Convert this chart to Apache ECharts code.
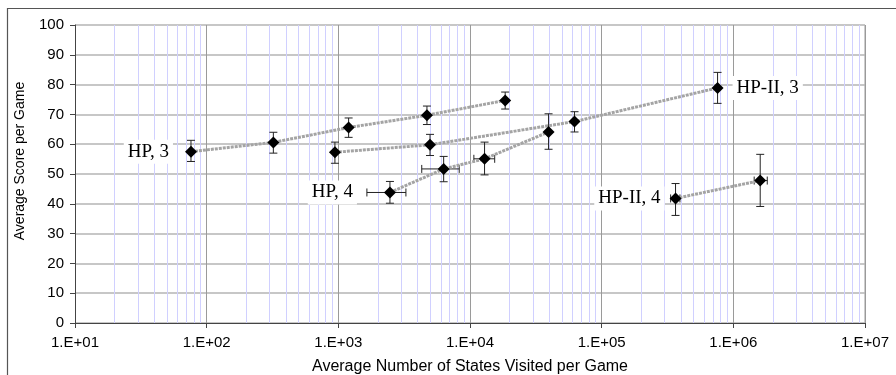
<!DOCTYPE html>
<html><head><meta charset="utf-8">
<script src="https://cdn.jsdelivr.net/npm/echarts@6/dist/echarts.min.js"></script>
<style>html,body{margin:0;padding:0;background:#fff}#c{width:896px;height:375px}</style>
</head><body><div id="c"></div>
<script>
// ---- data ----
const seriesNames = ['HP, 3', 'HP-II, 3', 'HP, 4', 'HP-II, 4'];

const hp3X  = [76, 321, 1197, 4710, 18500];
const hp3Y  = [57.5, 60.6, 65.6, 69.7, 74.7];
const hp3Lo = [54.2, 57.0, 62.3, 66.6, 71.8];
const hp3Hi = [61.3, 64.0, 68.8, 72.8, 77.5];
const hp3XLo = [null, null, null, null, null];
const hp3XHi = [null, null, null, null, null];

const hp2_3X  = [942, 4970, 62200, 759000];
const hp2_3Y  = [57.3, 59.8, 67.6, 78.9];
const hp2_3Lo = [53.6, 56.2, 64.1, 73.7];
const hp2_3Hi = [60.7, 63.3, 70.9, 84.1];
const hp2_3XLo = [null, null, null, null];
const hp2_3XHi = [null, null, null, null];

const hp4X  = [2466, 6310, 12900, 39500];
const hp4Y  = [43.8, 51.7, 55.1, 64.1];
const hp4Lo = [40.2, 47.4, 49.7, 58.3];
const hp4Hi = [47.5, 55.9, 60.7, 70.2];
const hp4XLo = [1648, 4300, 10700, null];
const hp4XHi = [3260, 8280, 15400, null];

const hp2_4X  = [364000, 1600000];
const hp2_4Y  = [41.8, 47.8];
const hp2_4Lo = [36.1, 39.1];
const hp2_4Hi = [46.8, 56.6];
const hp2_4XLo = [334000, 1440000];
const hp2_4XHi = [393000, 1810000];

const labelPointIndex = [0, 3, 0, 0];   // which point carries the series label

const yTicks = [0, 10, 20, 30, 40, 50, 60, 70, 80, 90, 100];
const xMin = 10, xMax = 1e7;
const yTitle = 'Average Score per Game';
const xTitle = 'Average Number of States Visited per Game';

// ---- build ----
const all = [
  {x: hp3X, y: hp3Y, lo: hp3Lo, hi: hp3Hi, xl: hp3XLo, xh: hp3XHi},
  {x: hp2_3X, y: hp2_3Y, lo: hp2_3Lo, hi: hp2_3Hi, xl: hp2_3XLo, xh: hp2_3XHi},
  {x: hp4X, y: hp4Y, lo: hp4Lo, hi: hp4Hi, xl: hp4XLo, xh: hp4XHi},
  {x: hp2_4X, y: hp2_4Y, lo: hp2_4Lo, hi: hp2_4Hi, xl: hp2_4XLo, xh: hp2_4XHi}
];
const labelStyles = [
  {position: 'left', distance: 12},
  {position: 'right', distance: 9},
  {position: 'left', distance: 27},
  {position: 'left', distance: 5}
];

const errData = [];
all.forEach(s => s.x.forEach((x, i) => {
  errData.push([x, s.y[i], s.lo[i], s.hi[i],
    s.xl[i] == null ? x : s.xl[i], s.xh[i] == null ? x : s.xh[i]]);
}));

const errStyle = {stroke: '#222', lineWidth: 1};
const series = [{
  type: 'custom',
  z: 1,
  clip: false,
  encode: {x: 0, y: 1},
  data: errData,
  renderItem(params, api) {
    const x = api.value(0), y = api.value(1);
    const p = api.coord([x, y]);
    const lo = api.coord([x, api.value(2)]);
    const hi = api.coord([x, api.value(3)]);
    const c = 4;
    const ch = [
      {type: 'line', shape: {x1: p[0], y1: lo[1], x2: p[0], y2: hi[1]}, style: errStyle},
      {type: 'line', shape: {x1: p[0] - c, y1: lo[1], x2: p[0] + c, y2: lo[1]}, style: errStyle},
      {type: 'line', shape: {x1: p[0] - c, y1: hi[1], x2: p[0] + c, y2: hi[1]}, style: errStyle}
    ];
    const xl = api.value(4), xh = api.value(5);
    if (xl !== x || xh !== x) {
      const l = api.coord([xl, y]), h = api.coord([xh, y]);
      ch.push({type: 'line', shape: {x1: l[0], y1: p[1], x2: h[0], y2: p[1]}, style: errStyle});
      ch.push({type: 'line', shape: {x1: l[0], y1: p[1] - c, x2: l[0], y2: p[1] + c}, style: errStyle});
      ch.push({type: 'line', shape: {x1: h[0], y1: p[1] - c, x2: h[0], y2: p[1] + c}, style: errStyle});
    }
    return {type: 'group', children: ch};
  }
}];

all.forEach((s, k) => {
  series.push({
    type: 'line',
    name: seriesNames[k],
    z: 3,
    symbol: 'diamond',
    symbolSize: 12,
    itemStyle: {color: '#000'},
    lineStyle: {color: '#a4a4a4', width: 3, type: [3, 1]},
    data: s.x.map((x, i) => {
      const d = {value: [x, s.y[i]]};
      if (i === labelPointIndex[k]) {
        d.label = Object.assign({
          show: true,
          formatter: seriesNames[k],
          fontFamily: 'Liberation Serif',
          fontSize: 19,
          color: '#000',
          backgroundColor: '#fff',
          padding: [3, 4, 2, 4]
        }, labelStyles[k]);
      }
      return d;
    })
  });
});

const chart = echarts.init(document.getElementById('c'), null, {renderer: 'canvas'});
chart.setOption({
  animation: false,
  backgroundColor: '#fff',
  grid: {left: 75, right: 31, top: 25, bottom: 52, containLabel: false, outerBoundsMode: 'none'},
  xAxis: {
    type: 'log', logBase: 10, min: xMin, max: xMax,
    name: xTitle, nameLocation: 'middle', nameGap: 36,
    nameTextStyle: {fontFamily: 'Liberation Sans', fontSize: 16, color: '#000'},
    axisLine: {show: true, lineStyle: {color: '#444', width: 1}},
    axisTick: {show: true, length: 5, lineStyle: {color: '#444'}},
    axisLabel: {
      fontFamily: 'Liberation Sans', fontSize: 15, color: '#000', margin: 12,
      formatter: v => '1.E+' + String(Math.round(Math.log10(v))).padStart(2, '0')
    },
    splitLine: {show: true, lineStyle: {color: '#9a9a9a', width: 1}},
    minorTick: {show: false, splitNumber: 9},
    minorSplitLine: {show: true, lineStyle: {color: '#d0d0ff', width: 1}}
  },
  yAxis: {
    type: 'value', min: yTicks[0], max: yTicks[yTicks.length - 1], interval: yTicks[1] - yTicks[0],
    axisLine: {show: true, lineStyle: {color: '#444', width: 1}},
    axisTick: {show: true, length: 5, lineStyle: {color: '#444'}},
    axisLabel: {fontFamily: 'Liberation Sans', fontSize: 15, color: '#000', margin: 11},
    splitLine: {show: true, lineStyle: {color: '#b4b4b4', width: 1.5}}
  },
  graphic: [
    {type: 'rect', shape: {x: 7.5, y: 8.5, width: 950, height: 450},
     style: {fill: 'none', stroke: '#555', lineWidth: 1.2}, silent: true},
    {type: 'line', shape: {x1: 865, y1: 25, x2: 865, y2: 323},
     style: {stroke: '#9a9a9a', lineWidth: 1}, silent: true},
    {type: 'text', x: 20, y: 161, rotation: Math.PI / 2,
     style: {text: yTitle, fontFamily: 'Liberation Sans', fontSize: 14, fill: '#000',
             align: 'center', verticalAlign: 'middle'}}
  ],
  series: series
});
</script>
</body></html>
